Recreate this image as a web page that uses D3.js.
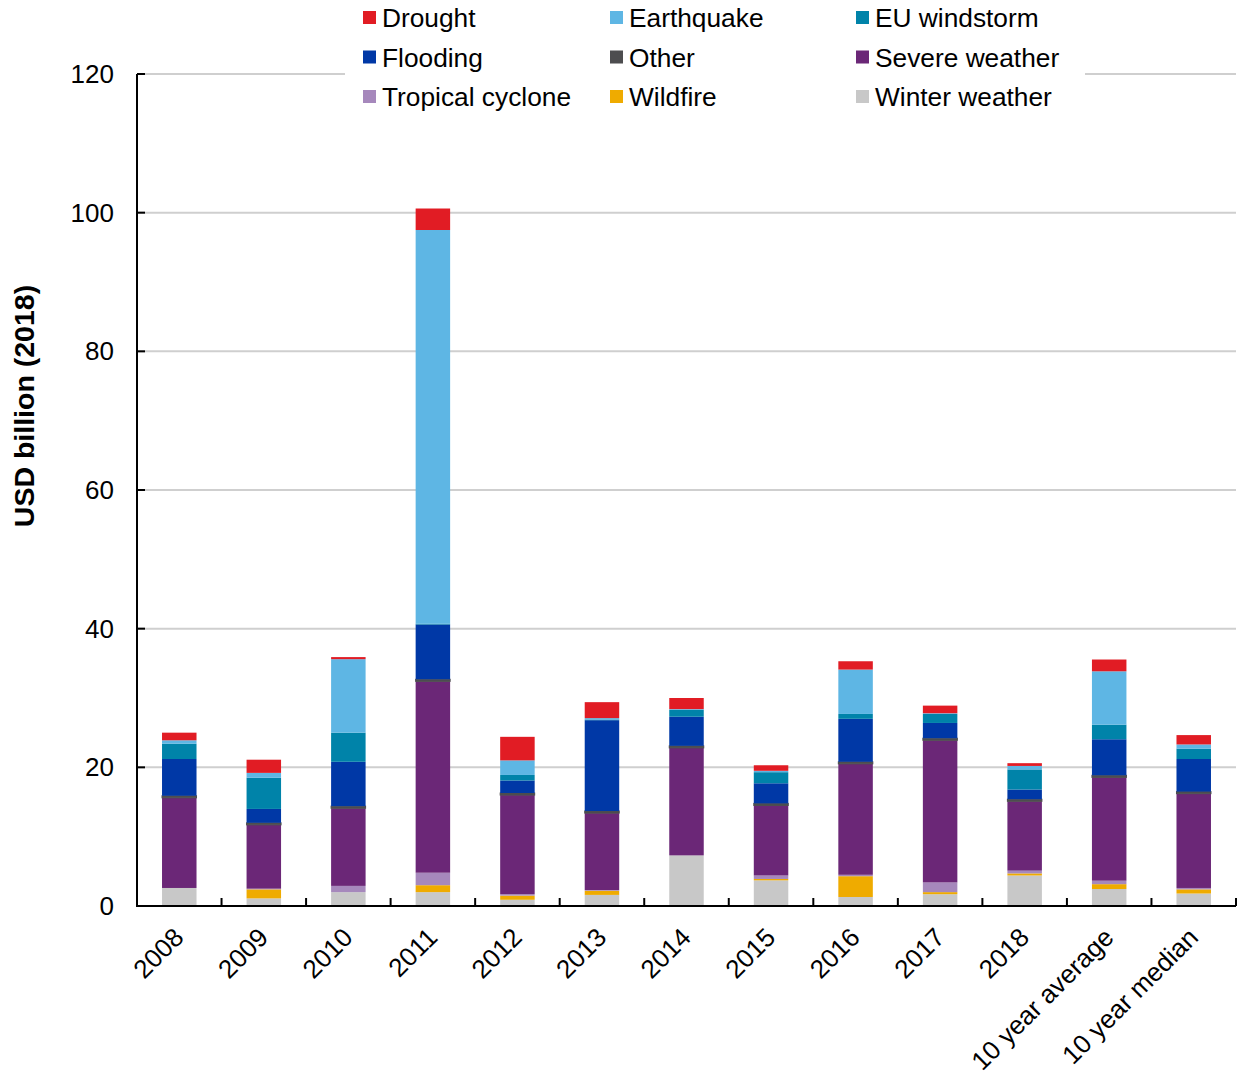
<!DOCTYPE html>
<html>
<head>
<meta charset="utf-8">
<style>
  body { margin: 0; background: #fff; }
  text { font-family: "Liberation Sans", Arial, sans-serif; }
</style>
</head>
<body>
<div id="graph_div"></div>
<script src="https://d3js.org/d3.v7.min.js"></script>
<script>
// categories and series (USD billion, 2018 prices), stacked bottom to top
var years = ["2008", "2009", "2010", "2011", "2012", "2013", "2014", "2015", "2016", "2017", "2018", "10 year average", "10 year median"];
var winterWeather   = [2.6, 1.1, 2.0, 2.0, 0.9, 1.6, 7.3, 3.7, 1.3, 1.7, 4.4, 2.45, 1.8];
var wildfire        = [0.0, 1.3, 0.0, 1.0, 0.6, 0.6, 0.0, 0.2, 3.0, 0.3, 0.3, 0.7, 0.6];
var tropicalCyclone = [0.0, 0.1, 0.9, 1.8, 0.2, 0.1, 0.0, 0.5, 0.2, 1.4, 0.4, 0.5, 0.2];
var severeWeather   = [13.0, 9.2, 11.2, 27.6, 14.3, 11.1, 15.5, 10.1, 16.0, 20.5, 10.0, 14.9, 13.6];
var other           = [0.3, 0.3, 0.3, 0.3, 0.3, 0.3, 0.3, 0.3, 0.3, 0.3, 0.3, 0.3, 0.3];
var flooding        = [5.3, 2.0, 6.4, 7.9, 1.8, 13.1, 4.2, 2.9, 6.2, 2.2, 1.4, 5.2, 4.7];
var euWindstorm     = [2.2, 4.5, 4.2, 0.1, 0.8, 0.1, 1.0, 1.6, 0.7, 1.3, 2.9, 2.1, 1.5];
var earthquake      = [0.5, 0.7, 10.6, 56.8, 2.1, 0.2, 0.1, 0.2, 6.4, 0.1, 0.5, 7.7, 0.6];
var drought         = [1.1, 1.9, 0.3, 3.1, 3.4, 2.3, 1.6, 0.8, 1.2, 1.1, 0.4, 1.7, 1.35];
var yTicks = [0, 20, 40, 60, 80, 100, 120];

var series = [
  {name: "Winter weather", values: winterWeather, color: "#c8c8c8"},
  {name: "Wildfire", values: wildfire, color: "#efab00"},
  {name: "Tropical cyclone", values: tropicalCyclone, color: "#a688bc"},
  {name: "Severe weather", values: severeWeather, color: "#6b2777"},
  {name: "Other", values: other, color: "#4d4d4f"},
  {name: "Flooding", values: flooding, color: "#0038a6"},
  {name: "EU windstorm", values: euWindstorm, color: "#0083a9"},
  {name: "Earthquake", values: earthquake, color: "#5eb6e4"},
  {name: "Drought", values: drought, color: "#e11c24"}
];
// legend reads row by row, three columns
var legendOrder = ["Drought", "Earthquake", "EU windstorm", "Flooding", "Other", "Severe weather", "Tropical cyclone", "Wildfire", "Winter weather"];

var W = 1239, H = 1076;
var plotL = 137, plotR = 1236, plotT = 74, plotB = 906;

var svg = d3.select("#graph_div").append("svg")
  .attr("width", W).attr("height", H);

var x = d3.scaleBand().domain(years).range([plotL, plotR])
  .paddingInner(0.592).paddingOuter(0.296);
var y = d3.scaleLinear().domain([0, 120]).range([plotB, plotT]);

// gridlines
svg.append("g").selectAll("line")
  .data(yTicks.filter(function(d) { return d > 0; }))
  .enter().append("line")
    .attr("x1", plotL).attr("x2", plotR)
    .attr("y1", function(d) { return y(d); })
    .attr("y2", function(d) { return y(d); })
    .attr("stroke", "#cfcfcf").attr("stroke-width", 2);

// stacked bars
var table = years.map(function(yr, i) {
  var row = {year: yr};
  series.forEach(function(s) { row[s.name] = s.values[i]; });
  return row;
});
var stack = d3.stack().keys(series.map(function(s) { return s.name; }));
var layers = stack(table);

svg.append("g").selectAll("g")
  .data(layers)
  .enter().append("g")
    .attr("fill", function(d, i) { return series[i].color; })
    .each(function(layer, i) {
      var g = d3.select(this);
      g.selectAll("rect")
        .data(layer.filter(function(d) { return d[1] - d[0] > 0; }))
        .enter().append("rect")
          .attr("x", function(d) { return x(d.data.year); })
          .attr("width", x.bandwidth())
          .attr("y", function(d) { return y(d[1]); })
          .attr("height", function(d) { return y(d[0]) - y(d[1]); });
      if (series[i].name == "Other") {
        g.selectAll("rect").attr("stroke", series[i].color).attr("stroke-width", 1);
      }
    });

// axes
svg.append("line")
  .attr("x1", plotL).attr("x2", plotL).attr("y1", plotT).attr("y2", plotB)
  .attr("stroke", "#000").attr("stroke-width", 2);
svg.append("line")
  .attr("x1", plotL - 1).attr("x2", plotR).attr("y1", plotB).attr("y2", plotB)
  .attr("stroke", "#000").attr("stroke-width", 2);

svg.append("g").selectAll("line")
  .data(yTicks)
  .enter().append("line")
    .attr("x1", plotL).attr("x2", plotL + 8)
    .attr("y1", function(d) { return y(d); })
    .attr("y2", function(d) { return y(d); })
    .attr("stroke", "#000").attr("stroke-width", 2);

svg.append("g").selectAll("text")
  .data(yTicks)
  .enter().append("text")
    .attr("x", 114)
    .attr("y", function(d) { return y(d) + 9; })
    .attr("text-anchor", "end")
    .attr("font-size", "26px")
    .text(function(d) { return d; });

// x ticks sit between categories and point up
svg.append("g").selectAll("line")
  .data(years)
  .enter().append("line")
    .attr("x1", function(d) { return x(d) + x.bandwidth() / 2 + x.step() / 2; })
    .attr("x2", function(d) { return x(d) + x.bandwidth() / 2 + x.step() / 2; })
    .attr("y1", plotB).attr("y2", plotB - 8)
    .attr("stroke", "#000").attr("stroke-width", 2);

svg.append("g").selectAll("text")
  .data(years)
  .enter().append("text")
    .attr("transform", function(d) {
      return "translate(" + (x(d) + x.bandwidth() / 2 + 6) + "," + (plotB + 33) + ") rotate(-45)";
    })
    .attr("text-anchor", "end")
    .attr("font-size", "26px")
    .text(function(d) { return d; });

svg.append("text")
  .attr("transform", "translate(34,406) rotate(-90)")
  .attr("text-anchor", "middle")
  .attr("font-size", "28.5px")
  .attr("font-weight", "bold")
  .text("USD billion (2018)");

// legend with white box over the top gridline
var legend = svg.append("g");
legend.append("rect")
  .attr("x", 345).attr("y", 0).attr("width", 740).attr("height", 116)
  .attr("fill", "#fff");

var colX = [363, 610, 856];
legendOrder.forEach(function(name, i) {
  var s = series.find(function(d) { return d.name == name; });
  var cx = colX[i % 3], cy = 18 + Math.floor(i / 3) * 39.5;
  legend.append("rect")
    .attr("x", cx).attr("y", cy - 7).attr("width", 13).attr("height", 13)
    .attr("fill", s.color);
  legend.append("text")
    .attr("x", cx + 19).attr("y", cy + 9)
    .attr("font-size", "26.3px")
    .text(name);
});
</script>
</body>
</html>
